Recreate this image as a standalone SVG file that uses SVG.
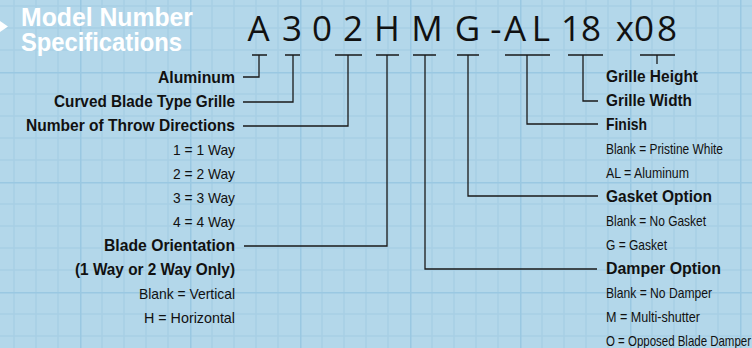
<svg xmlns="http://www.w3.org/2000/svg" width="752" height="348" viewBox="0 0 752 348">
<defs>
<pattern id="grid" patternUnits="userSpaceOnUse" x="80" y="72" width="110" height="110">
<rect width="110" height="110" fill="#b3d7ea"/>
<g stroke="#a7cfe5" stroke-width="1.5">
<path d="M22,0V110M44,0V110M66,0V110M88,0V110M0,22H110M0,44H110M0,66H110M0,88H110"/>
</g>
<path d="M0.5,0V110M0,0.5H110" stroke="#9ac8e2" stroke-width="2"/>
</pattern>
<style>
.code{font-family:"Open Sans","Noto Sans","DejaVu Sans",sans-serif;font-size:35px;fill:#111;text-anchor:middle}
.b{font-family:"Liberation Sans",Arial,sans-serif;font-weight:bold;font-size:16.5px;fill:#111}
.r{font-family:"Liberation Sans",Arial,sans-serif;font-size:15px;fill:#111}
.L{text-anchor:end}
.ln{fill:none;stroke:#1a1a1a;stroke-width:1.3}
.title{font-family:"Liberation Sans",Arial,sans-serif;font-weight:bold;font-size:25px;fill:#fff}
</style>
</defs>
<rect width="752" height="348" fill="url(#grid)"/>
<g id="title">
<polygon points="0,21 8,26.5 0,32" fill="#fff"/>
<text class="title" x="21" y="26" textLength="172" lengthAdjust="spacingAndGlyphs">Model Number</text>
<text class="title" x="21" y="50.5" textLength="161" lengthAdjust="spacingAndGlyphs">Specifications</text>
</g>
<g id="code">
<text class="code" x="258.5" y="41">A</text>
<text class="code" x="292" y="41">3</text>
<text class="code" x="322" y="41">0</text>
<text class="code" x="353" y="41">2</text>
<text class="code" x="387" y="41">H</text>
<text class="code" x="427" y="41">M</text>
<text class="code" x="467.5" y="41">G</text>
<text class="code" x="496" y="41">-</text>
<text class="code" x="515" y="41">A</text>
<text class="code" x="541" y="41">L</text>
<text class="code" x="571" y="41">1</text>
<text class="code" x="591" y="41">8</text>
<text class="code" x="625" y="41">x</text>
<text class="code" x="644" y="41">0</text>
<text class="code" x="667" y="41">8</text>
</g>
<g id="connectors" class="ln">
<path d="M252,55H267M285,55H300M335,55H362M376,55H399M413,55H436M457,55H479M505,55H550M568,55H603M640,55H675"/>
<path d="M243,77H259V55"/>
<path d="M243,102H293V55"/>
<path d="M243,126H348V55"/>
<path d="M244,246H387V55"/>
<path d="M425,55V269H597"/>
<path d="M468,55V196H598"/>
<path d="M527,55V124H598"/>
<path d="M583,55V101H598"/>
<path d="M657,55V64"/>
</g>
<g id="aluminum"><text class="b L" x="235" y="83" textLength="77" lengthAdjust="spacingAndGlyphs">Aluminum</text></g>
<g id="curved-blade"><text class="b L" x="235" y="107" textLength="181" lengthAdjust="spacingAndGlyphs">Curved Blade Type Grille</text></g>
<g id="throw-directions">
<text class="b L" x="235" y="131" textLength="209" lengthAdjust="spacingAndGlyphs">Number of Throw Directions</text>
<text class="r L" x="235" y="155" textLength="62" lengthAdjust="spacingAndGlyphs">1 = 1 Way</text>
<text class="r L" x="235" y="179" textLength="62" lengthAdjust="spacingAndGlyphs">2 = 2 Way</text>
<text class="r L" x="235" y="203" textLength="62" lengthAdjust="spacingAndGlyphs">3 = 3 Way</text>
<text class="r L" x="235" y="227" textLength="62" lengthAdjust="spacingAndGlyphs">4 = 4 Way</text>
</g>
<g id="blade-orientation">
<text class="b L" x="235" y="251" textLength="131" lengthAdjust="spacingAndGlyphs">Blade Orientation</text>
<text class="b L" x="235" y="275" textLength="160" lengthAdjust="spacingAndGlyphs">(1 Way or 2 Way Only)</text>
<text class="r L" x="235" y="299" textLength="96" lengthAdjust="spacingAndGlyphs">Blank = Vertical</text>
<text class="r L" x="235" y="323" textLength="91" lengthAdjust="spacingAndGlyphs">H = Horizontal</text>
</g>
<g id="grille-height"><text class="b" x="606" y="82" textLength="92" lengthAdjust="spacingAndGlyphs">Grille Height</text></g>
<g id="grille-width"><text class="b" x="606" y="106" textLength="86" lengthAdjust="spacingAndGlyphs">Grille Width</text></g>
<g id="finish">
<text class="b" x="606" y="130" textLength="41" lengthAdjust="spacingAndGlyphs">Finish</text>
<text class="r" x="606" y="154" textLength="117" lengthAdjust="spacingAndGlyphs">Blank = Pristine White</text>
<text class="r" x="606" y="178" textLength="83" lengthAdjust="spacingAndGlyphs">AL = Aluminum</text>
</g>
<g id="gasket">
<text class="b" x="606" y="202" textLength="106" lengthAdjust="spacingAndGlyphs">Gasket Option</text>
<text class="r" x="606" y="226" textLength="100" lengthAdjust="spacingAndGlyphs">Blank = No Gasket</text>
<text class="r" x="606" y="250" textLength="61" lengthAdjust="spacingAndGlyphs">G = Gasket</text>
</g>
<g id="damper">
<text class="b" x="606" y="274" textLength="115" lengthAdjust="spacingAndGlyphs">Damper Option</text>
<text class="r" x="606" y="298" textLength="106" lengthAdjust="spacingAndGlyphs">Blank = No Damper</text>
<text class="r" x="606" y="322" textLength="94" lengthAdjust="spacingAndGlyphs">M = Multi-shutter</text>
<text class="r" x="606" y="346" textLength="145" lengthAdjust="spacingAndGlyphs">O = Opposed Blade Damper</text>
</g>
</svg>
